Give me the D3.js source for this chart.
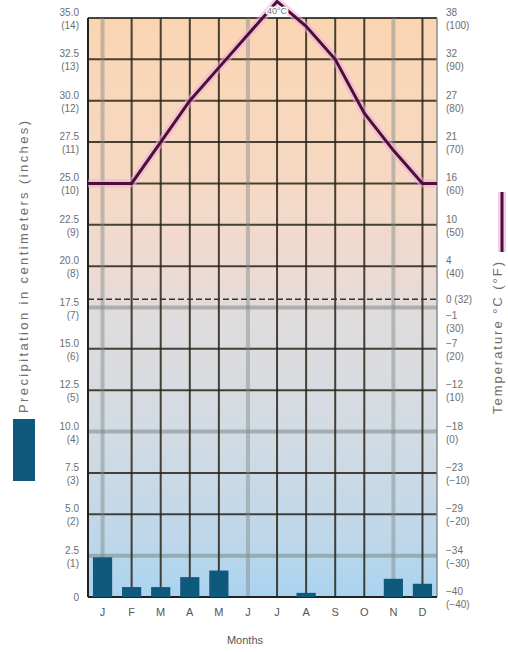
<!DOCTYPE html>
<html>
<head>
<meta charset="utf-8">
<script src="https://cdn.jsdelivr.net/npm/d3@7"></script>
<style>
  body { margin: 0; background: #fff; }
  text { font-family: "Liberation Sans", Arial, sans-serif; }
</style>
</head>
<body>
<div id="chartArea"></div>
<script>
const months = ['J', 'F', 'M', 'A', 'M', 'J', 'J', 'A', 'S', 'O', 'N', 'D'];
const precipCm = [2.4, 0.6, 0.6, 1.2, 1.6, 0, 0, 0.25, 0, 0, 1.1, 0.8];
const tempF = [60, 60, 70, 80, 88, 96, 104, 98, 90, 77, 68, 60];

const cmTicks = [35, 32.5, 30, 27.5, 25, 22.5, 20, 17.5, 15, 12.5, 10, 7.5, 5, 2.5, 0];
const inchLabels = ['(14)', '(13)', '(12)', '(11)', '(10)', '(9)', '(8)', '(7)', '(6)', '(5)', '(4)', '(3)', '(2)', '(1)', ''];
const fTicks = [100, 90, 80, 70, 60, 50, 40, 30, 20, 10, 0, -10, -20, -30, -40];
const cLabels = ['38', '32', '27', '21', '16', '10', '4', '\u22121', '\u22127', '\u221212', '\u221218', '\u221223', '\u221229', '\u221234', '\u221240'];

const svgWidth = 508;
const svgHeight = 652;

const svg = d3.select('#chartArea')
  .append('svg')
  .attr('width', svgWidth)
  .attr('height', svgHeight);

const plotLeft = 88, plotRight = 437, plotTop = 18, plotBottom = 597;

const x = d3.scaleBand().domain(d3.range(12)).range([plotLeft, plotRight]);
const yCm = d3.scaleLinear().domain([0, 35]).range([plotBottom, plotTop]);
const yF = d3.scaleLinear().domain([-40, 100]).range([plotBottom, plotTop]);
const xc = i => x(i) + x.bandwidth() / 2;

// background gradient
const defs = svg.append('defs');
const grad = defs.append('linearGradient')
  .attr('id', 'bg')
  .attr('gradientUnits', 'userSpaceOnUse')
  .attr('x1', 0).attr('x2', 0)
  .attr('y1', plotTop).attr('y2', plotBottom);
[[0, '#fad5b2'], [0.28, '#f6d9c3'], [0.45, '#ecdad4'], [0.52, '#dfdcdd'], [0.72, '#d2dbe3'], [0.9, '#bed7ea'], [1, '#a9d3f0']]
  .forEach(s => grad.append('stop').attr('offset', s[0]).attr('stop-color', s[1]));

svg.append('rect')
  .attr('x', plotLeft).attr('y', plotTop)
  .attr('width', plotRight - plotLeft).attr('height', plotBottom - plotTop)
  .attr('fill', 'url(#bg)');

// horizontal grid
const grayRows = [17.5, 10, 2.5];
cmTicks.forEach(v => {
  const gray = grayRows.includes(v);
  svg.append('line')
    .attr('x1', plotLeft).attr('x2', plotRight)
    .attr('y1', yCm(v)).attr('y2', yCm(v))
    .attr('stroke', gray ? '#7d8888' : '#2a2418')
    .attr('stroke-opacity', gray ? 0.55 : 0.85)
    .attr('stroke-width', gray ? 4 : 2);
});

// vertical grid at month centres
const grayCols = [0, 5, 10];
months.forEach((m, i) => {
  const gray = grayCols.includes(i);
  svg.append('line')
    .attr('x1', xc(i)).attr('x2', xc(i))
    .attr('y1', plotTop).attr('y2', plotBottom)
    .attr('stroke', gray ? '#7d8888' : '#2a2418')
    .attr('stroke-opacity', gray ? 0.45 : 0.85)
    .attr('stroke-width', gray ? 4 : 2);
});

// freezing line
svg.append('line')
  .attr('x1', plotLeft).attr('x2', plotRight)
  .attr('y1', yF(32)).attr('y2', yF(32))
  .attr('stroke', '#333')
  .attr('stroke-width', 1.5)
  .attr('stroke-dasharray', '6,3');

// borders
svg.append('line').attr('x1', plotLeft).attr('x2', plotLeft).attr('y1', plotTop).attr('y2', plotBottom)
  .attr('stroke', '#222').attr('stroke-width', 2);
svg.append('line').attr('x1', plotRight).attr('x2', plotRight).attr('y1', plotTop).attr('y2', plotBottom)
  .attr('stroke', '#7d8888').attr('stroke-opacity', 0.7).attr('stroke-width', 2);
svg.append('line').attr('x1', plotLeft).attr('x2', plotRight).attr('y1', plotBottom).attr('y2', plotBottom)
  .attr('stroke', '#222').attr('stroke-width', 2);

// precipitation bars
const barW = x.bandwidth() * 0.66;
svg.selectAll('.bar')
  .data(precipCm)
  .enter().append('rect')
  .attr('class', 'bar')
  .attr('x', (d, i) => xc(i) - barW / 2)
  .attr('y', d => yCm(d))
  .attr('width', barW)
  .attr('height', d => plotBottom - yCm(d))
  .attr('fill', '#0f5a7c');

// temperature line, extended flat to both edges
const linePts = [[plotLeft, tempF[0]]]
  .concat(tempF.map((t, i) => [xc(i), t]))
  .concat([[plotRight, tempF[11]]]);
const line = d3.line().x(d => d[0]).y(d => yF(d[1]));

svg.append('path')
  .attr('d', line(linePts))
  .attr('fill', 'none')
  .attr('stroke', '#f0a8e4')
  .attr('stroke-opacity', 0.55)
  .attr('stroke-width', 8);
svg.append('path')
  .attr('d', line(linePts))
  .attr('fill', 'none')
  .attr('stroke', '#4a1232')
  .attr('stroke-width', 3);

svg.append('text')
  .attr('x', xc(6))
  .attr('y', 14)
  .attr('text-anchor', 'middle')
  .attr('font-size', 9)
  .attr('fill', '#777')
  .attr('stroke', '#fff')
  .attr('stroke-width', 3)
  .attr('paint-order', 'stroke')
  .text('40\u00b0C');

// left axis labels
const lab = { fill: '#6e6e6e', size: 10 };
cmTicks.forEach((v, i) => {
  const y = yCm(v);
  if (v === 0) {
    svg.append('text').attr('x', 79).attr('y', y + 4).attr('text-anchor', 'end')
      .attr('font-size', lab.size).attr('fill', lab.fill).text('0');
    return;
  }
  svg.append('text').attr('x', 79).attr('y', y - 2).attr('text-anchor', 'end')
    .attr('font-size', lab.size).attr('fill', lab.fill).text(v.toFixed(1));
  svg.append('text').attr('x', 79).attr('y', y + 11).attr('text-anchor', 'end')
    .attr('font-size', lab.size).attr('fill', lab.fill).text(inchLabels[i]);
});

// right axis labels
fTicks.forEach((f, i) => {
  const shift = f === 30 ? 13 : 0;
  const y = yF(f) + shift;
  svg.append('text').attr('x', 446).attr('y', y - 2)
    .attr('font-size', lab.size).attr('fill', lab.fill).text(cLabels[i]);
  svg.append('text').attr('x', 446).attr('y', y + 11)
    .attr('font-size', lab.size).attr('fill', lab.fill).text('(' + String(f).replace('-', '\u2212') + ')');
});
svg.append('text').attr('x', 446).attr('y', yF(32) + 4)
  .attr('font-size', lab.size).attr('fill', lab.fill).text('0 (32)');

// month labels
svg.selectAll('.month')
  .data(months)
  .enter().append('text')
  .attr('x', (d, i) => xc(i))
  .attr('y', 616)
  .attr('text-anchor', 'middle')
  .attr('font-size', 11)
  .attr('fill', '#555')
  .text(d => d);

svg.append('text')
  .attr('x', 245).attr('y', 644)
  .attr('text-anchor', 'middle')
  .attr('font-size', 11)
  .attr('fill', '#555')
  .text('Months');

// left title + legend swatch
svg.append('text')
  .attr('transform', 'translate(28,413) rotate(-90)')
  .attr('text-anchor', 'start')
  .attr('font-size', 13)
  .attr('textLength', 292)
  .attr('lengthAdjust', 'spacing')
  .attr('fill', '#6e6e6e')
  .text('Precipitation in centimeters (inches)');
svg.append('rect')
  .attr('x', 13).attr('y', 419)
  .attr('width', 22).attr('height', 62)
  .attr('fill', '#0f5a7c');

// right title + legend line
svg.append('text')
  .attr('transform', 'translate(502,414) rotate(-90)')
  .attr('text-anchor', 'start')
  .attr('font-size', 13)
  .attr('textLength', 152)
  .attr('lengthAdjust', 'spacing')
  .attr('fill', '#6e6e6e')
  .text('Temperature \u00b0C (\u00b0F)');
svg.append('line')
  .attr('x1', 502).attr('x2', 502).attr('y1', 192).attr('y2', 252)
  .attr('stroke', '#f0a8e4').attr('stroke-opacity', 0.6).attr('stroke-width', 8);
svg.append('line')
  .attr('x1', 502).attr('x2', 502).attr('y1', 192).attr('y2', 252)
  .attr('stroke', '#4a1232').attr('stroke-width', 3);
</script>
</body>
</html>
